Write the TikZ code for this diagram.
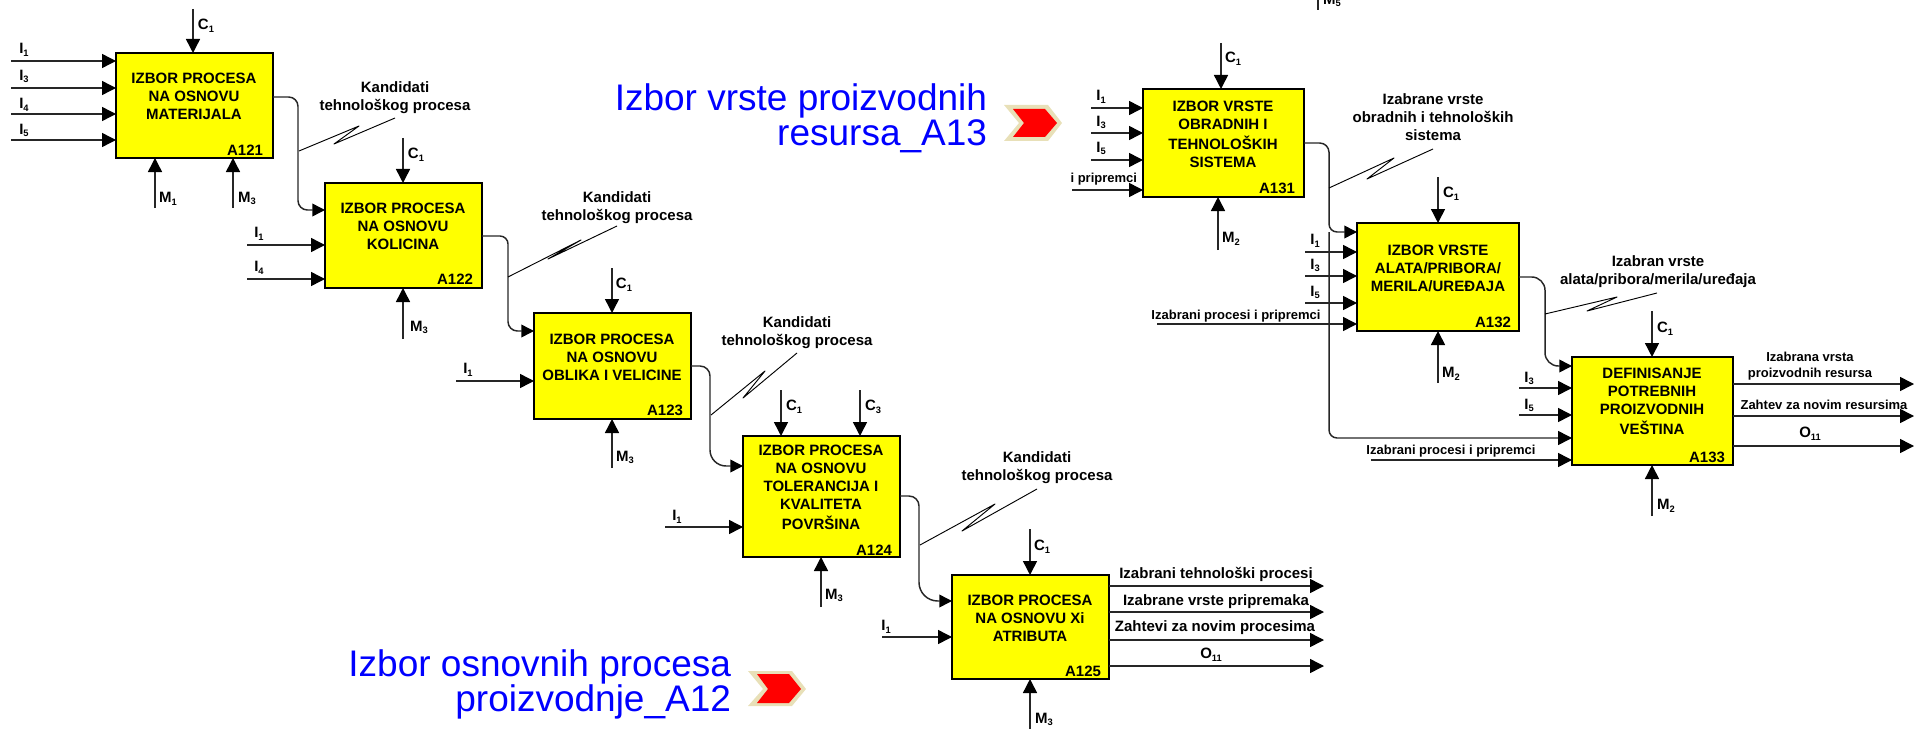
\documentclass[tikz,border=0pt]{standalone}
\usepackage{fontspec}
\setmainfont{Liberation Sans}
\usetikzlibrary{arrows.meta,calc}
\definecolor{chevtan}{RGB}{232,224,184}
\definecolor{boxyellow}{RGB}{255,255,0}
\definecolor{headblue}{RGB}{0,0,255}
\definecolor{chevred}{RGB}{255,0,0}
\newcommand\sbs[1]{\raisebox{-1.6pt}{\fontsize{7}{8}\selectfont #1}}
\newcommand\pbox[5]{%
  \pgfmathsetmacro\cx{(#2+#4)/2}\pgfmathsetmacro\cy{(#3+#5)/2}%
  \pgfmathsetmacro\bw{(#4-#2)*0.75}\pgfmathsetmacro\bh{(#5-#3)*0.75}%
  \node[procbox,minimum width=\bw pt,minimum height=\bh pt] (#1) at (\cx,\cy) {};}
\newcommand\lbl[5][]{\node[tag,#1] (#2) at (#3,#4) {#5};}
\newcommand\inp[4]{\coordinate (#2) at (#3,#4); \draw[conn] (#2) -- (#2 -| #1.west);}
\newcommand\ctl[4]{\coordinate (#2) at (#3,#4); \draw[conn] (#2) -- (#2 |- #1.north);}
\newcommand\mec[4]{\coordinate (#2) at (#3,#4); \draw[conn] (#2) -- (#2 |- #1.south);}
\newcommand\outp[4]{\coordinate (#2) at (#3,#4); \draw[conn] (#2 -| #1.east) -- (#2);}
\newcommand\elbow[7]{%
  \coordinate (#1#2a) at (#3,#4); \coordinate (#1#2b) at (#3,#5);
  \draw[elbowline] (#1#2a -| #1.east) [rounded corners=#6] -- (#1#2a) [rounded corners=#7] -- (#1#2b) -- (#1#2b -| #2.west);}
\newcommand\bolt[9]{%
  \coordinate (#1p) at (#2,#3); \coordinate (#1q) at (#4,#5); \coordinate (#1r) at (#6,#7); \coordinate (#1s) at (#8,#9);
  \draw[boltline] (#1p) -- (#1q) -- (#1r) -- (#1s);}
\tikzset{
  procbox/.style={draw=black,fill=boxyellow,line width=1.7pt,outer sep=0pt,inner sep=0pt},
  conn/.style={line width=1.1pt,color=black!85,-{Triangle[length=10.5pt,width=10.5pt,color=black]}},
  elbowline/.style={line width=1.1pt,color=black!85,-{Triangle[length=9.5pt,width=9.5pt,color=black]}},
  stub/.style={line width=1.1pt,color=black!85},
  boltline/.style={line width=0.7pt,color=black,line join=round},
  tag/.style={font=\fontsize{11.25}{13.5}\selectfont\bfseries,inner sep=0pt,outer sep=0pt,align=center,yshift=-1.35pt,text=black},
  small/.style={font=\fontsize{9.75}{12}\selectfont\bfseries,yshift=0.2pt},
  code/.style={anchor=east},
  bigtext/.style={font=\fontsize{27.75}{26.25}\selectfont,text=headblue,align=right,anchor=east,inner sep=0pt,outer sep=0pt},
  chevout/.style={fill=chevtan,draw=none},
  chevin/.style={fill=chevred,draw=none}
}
\begin{document}
\begin{tikzpicture}[x=0.75pt,y=-0.75pt]
\useasboundingbox (0,0) rectangle (1915,731);
\clip (0,0) rectangle (1915,731);
% ---- boxes
\pbox{A121}{116}{53}{273}{158}
\pbox{A122}{325}{183}{482}{288}
\pbox{A123}{534}{313}{691}{419}
\pbox{A124}{743}{436}{900}{557}
\pbox{A125}{952}{575}{1109}{679}
\pbox{A131}{1143}{89}{1304}{197}
\pbox{A132}{1357}{223}{1519}{331}
\pbox{A133}{1572}{357}{1733}{465}
% ---- box texts
\lbl{A121t}{194}{96}{\strut IZBOR PROCESA\\\strut NA OSNOVU\\\strut MATERIJALA}
\lbl{A122t}{403}{226.5}{\strut IZBOR PROCESA\\\strut NA OSNOVU\\\strut KOLICINA}
\lbl{A123t}{612}{357}{\strut IZBOR PROCESA\\\strut NA OSNOVU\\\strut OBLIKA I VELICINE}
\lbl{A124t}{821}{487.5}{\strut IZBOR PROCESA\\\strut NA OSNOVU\\\strut TOLERANCIJA I\\\strut KVALITETA\\\strut POVRŠINA}
\lbl{A125t}{1030}{618}{\strut IZBOR PROCESA\\\strut NA OSNOVU Xi\\\strut ATRIBUTA}
\lbl{A131t}{1223}{134}{\strut IZBOR VRSTE\\\strut OBRADNIH I\\\strut TEHNOLOŠKIH\\\strut SISTEMA}
\lbl{A132t}{1438}{268}{\strut IZBOR VRSTE\\\strut ALATA/PRIBORA/\\\strut MERILA/UREĐAJA}
\lbl{A133t}{1652}{401}{\strut DEFINISANJE\\\strut POTREBNIH\\\strut PROIZVODNIH\\\strut VEŠTINA}
% ---- box codes
\lbl[code]{A121c}{263}{148}{A121}
\lbl[code]{A122c}{473}{277}{A122}
\lbl[code]{A123c}{683}{409}{A123}
\lbl[code]{A124c}{892}{548}{A124}
\lbl[code]{A125c}{1101}{670}{A125}
\lbl[code]{A131c}{1295}{187}{A131}
\lbl[code]{A132c}{1511}{321}{A132}
\lbl[code]{A133c}{1725}{456}{A133}
% ---- A121
\ctl{A121}{A121C1}{193}{9}
\lbl{A121C1l}{206}{24}{C\sbs{1}}
\inp{A121}{A121I1}{11}{61}\lbl{A121I1l}{24}{48}{I\sbs{1}}
\inp{A121}{A121I3}{11}{88}\lbl{A121I3l}{24}{75}{I\sbs{3}}
\inp{A121}{A121I4}{11}{114}\lbl{A121I4l}{24}{103}{I\sbs{4}}
\inp{A121}{A121I5}{11}{140}\lbl{A121I5l}{24}{129}{I\sbs{5}}
\mec{A121}{A121M1}{155}{208}\lbl{A121M1l}{168}{197}{M\sbs{1}}
\mec{A121}{A121M3}{233}{208}\lbl{A121M3l}{247}{197}{M\sbs{3}}
\elbow{A121}{A122}{298}{97}{210}{7pt}{7pt}
\bolt{b1}{299}{151}{359}{126}{334}{144}{395}{118}
\lbl{b1l}{395}{96}{\strut Kandidati\\\strut tehnološkog procesa}
% ---- A122
\ctl{A122}{A122C1}{403}{138}\lbl{A122C1l}{416}{153}{C\sbs{1}}
\inp{A122}{A122I1}{247}{245}\lbl{A122I1l}{259}{232}{I\sbs{1}}
\inp{A122}{A122I4}{247}{279}\lbl{A122I4l}{259}{266}{I\sbs{4}}
\mec{A122}{A122M3}{403}{339}\lbl{A122M3l}{419}{326}{M\sbs{3}}
\elbow{A122}{A123}{508}{236}{331}{6pt}{7pt}
\bolt{b2}{508}{277}{581}{240}{548}{259}{617}{226}
\lbl{b2l}{617}{206}{\strut Kandidati\\\strut tehnološkog procesa}
% ---- A123
\ctl{A123}{A123C1}{612}{268}\lbl{A123C1l}{624}{283}{C\sbs{1}}
\inp{A123}{A123I1}{456}{381}\lbl{A123I1l}{468}{368}{I\sbs{1}}
\mec{A123}{A123M3}{612}{468}\lbl{A123M3l}{625}{456}{M\sbs{3}}
\elbow{A123}{A124}{710}{366}{466}{7.5pt}{12pt}
\bolt{b3}{711}{415}{765}{371}{743}{398}{797}{353}
\lbl{b3l}{797}{331}{\strut Kandidati\\\strut tehnološkog procesa}
% ---- A124
\ctl{A124}{A124C1}{781}{390}\lbl{A124C1l}{794}{405}{C\sbs{1}}
\ctl{A124}{A124C3}{860}{390}\lbl{A124C3l}{873}{405}{C\sbs{3}}
\inp{A124}{A124I1}{665}{527}\lbl{A124I1l}{677}{515}{I\sbs{1}}
\mec{A124}{A124M3}{821}{607}\lbl{A124M3l}{834}{594}{M\sbs{3}}
\elbow{A124}{A125}{919}{496}{601}{7.5pt}{14pt}
\bolt{b4}{920}{545}{995}{504}{962}{531}{1037}{489}
\lbl{b4l}{1037}{466}{\strut Kandidati\\\strut tehnološkog procesa}
% ---- A125
\ctl{A125}{A125C1}{1030}{529}\lbl{A125C1l}{1042}{545}{C\sbs{1}}
\inp{A125}{A125I1}{882}{637}\lbl{A125I1l}{886}{625}{I\sbs{1}}
\mec{A125}{A125M3}{1030}{729}\lbl{A125M3l}{1044}{718}{M\sbs{3}}
\outp{A125}{A125o1}{1324}{586}\lbl{A125o1l}{1216}{573}{Izabrani tehnološki procesi}
\outp{A125}{A125o2}{1324}{612}\lbl{A125o2l}{1216}{600}{Izabrane vrste pripremaka}
\outp{A125}{A125o3}{1324}{640}\lbl{A125o3l}{1215}{626}{Zahtevi za novim procesima}
\outp{A125}{A125o4}{1324}{666}\lbl{A125o4l}{1211}{653}{O\sbs{11}}
% ---- clipped stub at the top edge
\coordinate (M5a) at (1318,-8); \coordinate (M5b) at (1318,10);
\draw[stub] (M5a) -- (M5b);
\lbl{M5l}{1332}{-1}{M\sbs{5}}
% ---- A131
\ctl{A131}{A131C1}{1221}{43}\lbl{A131C1l}{1233}{57}{C\sbs{1}}
\inp{A131}{A131I1}{1091}{108}\lbl{A131I1l}{1101}{95}{I\sbs{1}}
\inp{A131}{A131I3}{1091}{133}\lbl{A131I3l}{1101}{121}{I\sbs{3}}
\inp{A131}{A131I5}{1091}{160}\lbl{A131I5l}{1101}{147}{I\sbs{5}}
\inp{A131}{A131Ip}{1072}{190}\lbl[small,anchor=east]{A131Ipl}{1137}{178}{i pripremci}
\mec{A131}{A131M2}{1218}{250}\lbl{A131M2l}{1231}{237}{M\sbs{2}}
\elbow{A131}{A132}{1329}{143}{232}{7pt}{6pt}
\coordinate (brt) at (1329,232); \coordinate (brc) at (1329,438);
\draw[conn,rounded corners=6pt] (brt) -- (brc) -- (brc -| A133.west);
\bolt{b5}{1329}{188}{1394}{158}{1367}{179}{1433}{149}
\lbl{b5l}{1433}{117}{\strut Izabrane vrste\\\strut obradnih i tehnoloških\\\strut sistema}
% ---- A132
\ctl{A132}{A132C1}{1438}{177}\lbl{A132C1l}{1451}{192}{C\sbs{1}}
\inp{A132}{A132I1}{1305}{252}\lbl{A132I1l}{1315}{239}{I\sbs{1}}
\inp{A132}{A132I3}{1305}{276}\lbl{A132I3l}{1315}{264}{I\sbs{3}}
\inp{A132}{A132I5}{1305}{303}\lbl{A132I5l}{1315}{291}{I\sbs{5}}
\inp{A132}{A132Ip}{1157}{324}\lbl[small]{A132Ipl}{1236}{315}{Izabrani procesi i pripremci}
\mec{A132}{A132M2}{1438}{383}\lbl{A132M2l}{1451}{372}{M\sbs{2}}
\elbow{A132}{A133}{1545}{277}{366}{10pt}{10pt}
\bolt{b6}{1545}{314}{1617}{297}{1587}{311}{1657}{293}
\lbl{b6l}{1658}{270.5}{\strut Izabran vrste\\\strut alata/pribora/merila/uređaja}
% ---- A133
\ctl{A133}{A133C1}{1652}{311}\lbl{A133C1l}{1665}{327}{C\sbs{1}}
\inp{A133}{A133I3}{1519}{388}\lbl{A133I3l}{1529}{377}{I\sbs{3}}
\inp{A133}{A133I5}{1519}{415}\lbl{A133I5l}{1529}{404}{I\sbs{5}}
\inp{A133}{A133Ip}{1371}{460}\lbl[small]{A133Ipl}{1451}{450}{Izabrani procesi i pripremci}
\mec{A133}{A133M2}{1652}{516}\lbl{A133M2l}{1666}{504}{M\sbs{2}}
\outp{A133}{A133o1}{1914}{384}\lbl[small]{A133o1l}{1810}{365}{\strut Izabrana vrsta\\\strut proizvodnih resursa}
\outp{A133}{A133o2}{1914}{416}\lbl[small]{A133o2l}{1824}{403}{Zahtev za novim resursima}
\outp{A133}{A133o3}{1914}{446}\lbl{A133o3l}{1810}{432}{O\sbs{11}}
% ---- blue headings and chevrons
\node[bigtext] (h13) at (987,120) {\strut Izbor vrste proizvodnih\\[-2.5pt]\strut resursa\_A13};
\node[bigtext] (h12) at (731,686) {\strut Izbor osnovnih procesa\\[-2.5pt]\strut proizvodnje\_A12};
\fill[chevout] (1004,105) -- (1048,105) -- (1062,123) -- (1048,141) -- (1004,141) -- (1019,123) -- cycle;
\fill[chevin] (1013,109) -- (1045,109) -- (1057,123) -- (1045,137) -- (1013,137) -- (1024,123) -- cycle;
\fill[chevout] (748,671) -- (792,671) -- (806,689) -- (792,706) -- (748,706) -- (763,689) -- cycle;
\fill[chevin] (757,674) -- (789,674) -- (801,689) -- (789,703) -- (757,703) -- (768,689) -- cycle;
\end{tikzpicture}
\end{document}
